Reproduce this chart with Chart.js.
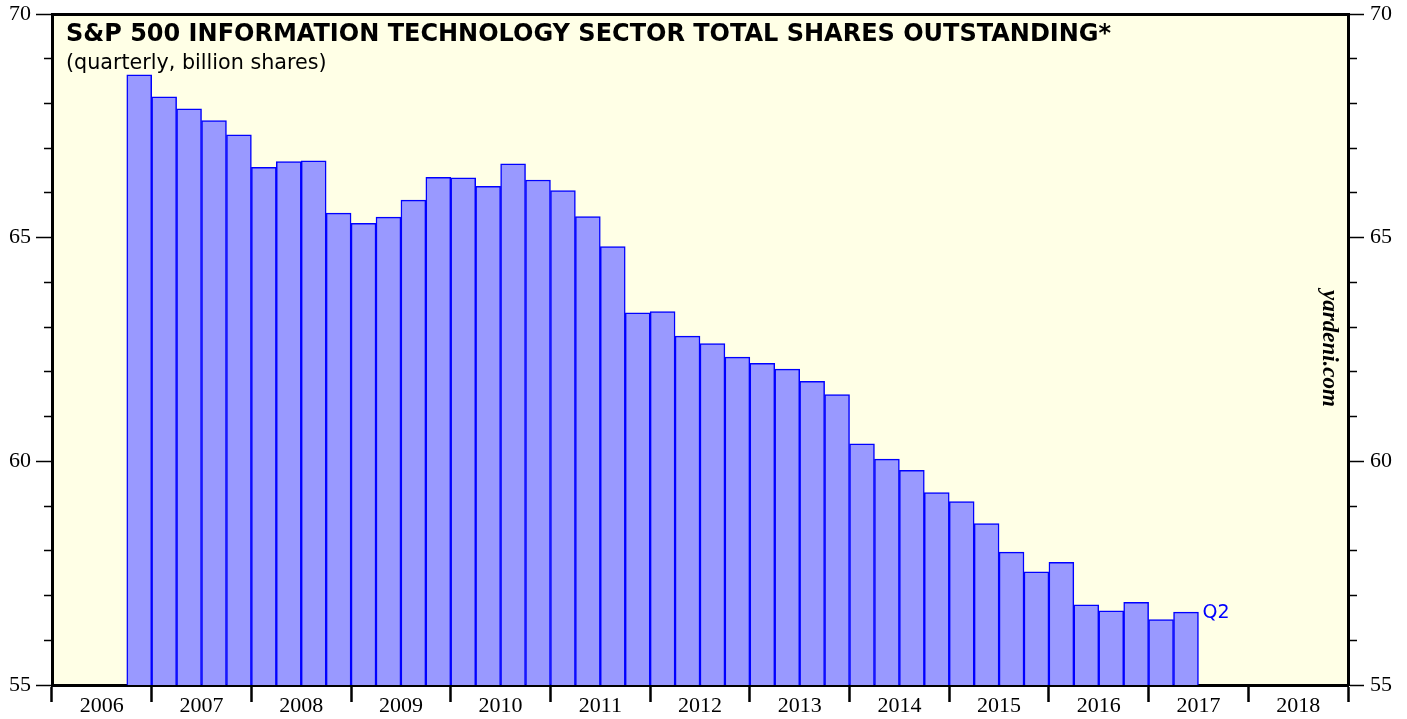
<!DOCTYPE html>
<html><head><meta charset="utf-8">
<script src="https://cdn.jsdelivr.net/npm/chart.js@4.4.1/dist/chart.umd.min.js"></script>
<style>html,body{margin:0;padding:0;background:#fff;} #wrap{position:relative;width:1407px;height:719px;}</style>
</head><body><div id="wrap"><canvas id="c"></canvas></div>
<script>
const allQuarters = [
  '2006Q1','2006Q2','2006Q3','2006Q4','2007Q1','2007Q2','2007Q3','2007Q4',
  '2008Q1','2008Q2','2008Q3','2008Q4','2009Q1','2009Q2','2009Q3','2009Q4',
  '2010Q1','2010Q2','2010Q3','2010Q4','2011Q1','2011Q2','2011Q3','2011Q4',
  '2012Q1','2012Q2','2012Q3','2012Q4','2013Q1','2013Q2','2013Q3','2013Q4',
  '2014Q1','2014Q2','2014Q3','2014Q4','2015Q1','2015Q2','2015Q3','2015Q4',
  '2016Q1','2016Q2','2016Q3','2016Q4','2017Q1','2017Q2','2017Q3','2017Q4',
  '2018Q1','2018Q2','2018Q3','2018Q4'
];
const yearLabels = ['2006','2007','2008','2009','2010','2011','2012','2013','2014','2015','2016','2017','2018'];
const shareQuarters = [
  '2006Q4','2007Q1','2007Q2','2007Q3','2007Q4',
  '2008Q1','2008Q2','2008Q3','2008Q4','2009Q1','2009Q2','2009Q3','2009Q4',
  '2010Q1','2010Q2','2010Q3','2010Q4','2011Q1','2011Q2','2011Q3','2011Q4',
  '2012Q1','2012Q2','2012Q3','2012Q4','2013Q1','2013Q2','2013Q3','2013Q4',
  '2014Q1','2014Q2','2014Q3','2014Q4','2015Q1','2015Q2','2015Q3','2015Q4',
  '2016Q1','2016Q2','2016Q3','2016Q4','2017Q1','2017Q2'
];
const shares = [
  68.64, 68.15, 67.88, 67.62, 67.30,
  66.57, 66.70, 66.72, 65.55, 65.32, 65.46, 65.84, 66.35,
  66.34, 66.15, 66.65, 66.29, 66.05, 65.47, 64.80, 63.32,
  63.35, 62.80, 62.63, 62.33, 62.19, 62.06, 61.79, 61.49,
  60.39, 60.05, 59.80, 59.30, 59.10, 58.61, 57.97, 57.53,
  57.74, 56.79, 56.66, 56.85, 56.46, 56.63
];
const yMin = 55, yMax = 70, yMajorStep = 5, yMinorStep = 1;
const titleText = 'S&P 500 INFORMATION TECHNOLOGY SECTOR TOTAL SHARES OUTSTANDING*';
const subtitleText = '(quarterly, billion shares)';
const lastLabel = 'Q2';
const sourceText = 'yardeni.com';

const decor = {
  id: 'decor',
  beforeDraw(chart) {
    const {ctx, chartArea: a} = chart;
    ctx.save();
    ctx.fillStyle = '#FFFFE6';
    ctx.fillRect(a.left, a.top, a.right - a.left, a.bottom - a.top);
    ctx.restore();
  },
  afterDatasetsDraw(chart) {
    const ctx = chart.ctx;
    ctx.save();
    ctx.fillStyle = '#000';
    ctx.textAlign = 'left';
    ctx.textBaseline = 'alphabetic';
    ctx.font = 'bold 24px "DejaVu Sans"';
    ctx.fillText(titleText, 66, 41);
    ctx.font = '20.7px "DejaVu Sans"';
    ctx.fillText(subtitleText, 66, 69);
    // last-value label
    const xs = chart.scales.x, ys = chart.scales.y;
    const li = shares.length - 1;
    const idx = allQuarters.indexOf(shareQuarters[li]);
    const band = xs.getPixelForValue(1) - xs.getPixelForValue(0);
    ctx.fillStyle = '#0000FF';
    ctx.font = '19px "DejaVu Sans"';
    ctx.textBaseline = 'middle';
    ctx.fillText(lastLabel, xs.getPixelForValue(idx) + band / 2 + 4, ys.getPixelForValue(shares[li]) + 1);
    // source
    ctx.fillStyle = '#000';
    ctx.font = 'bold italic 23px "Liberation Serif"';
    ctx.textAlign = 'center';
    ctx.textBaseline = 'alphabetic';
    ctx.translate(1323, 348.5);
    ctx.rotate(Math.PI / 2);
    ctx.fillText(sourceText, 0, 0);
    ctx.restore();
  }
};

const tickFont = {family: '"Liberation Serif"', size: 22, lineHeight: 1};
function yAxis(pos, pad, minorDash, width) {
  return {
    type: 'linear', position: pos, min: yMin, max: yMax,
    ticks: {
      stepSize: yMinorStep, autoSkip: false, padding: pad, color: '#000', font: tickFont,
      callback: v => (v % yMajorStep === 0 ? String(v) : '')
    },
    grid: {
      drawOnChartArea: false, drawTicks: true, tickLength: 16, tickWidth: 1.5, tickColor: '#000',
      tickBorderDash: c => (c.tick && c.tick.value % yMajorStep !== 0) ? minorDash : []
    },
    border: {display: true, color: '#000', width: 3},
    afterFit(s) { s.width = width; s.paddingTop = 0; s.paddingBottom = 0; }
  };
}

new Chart(document.getElementById('c'), {
  type: 'bar',
  data: {
    labels: allQuarters,
    datasets: [{
      data: shares.map((v, i) => ({x: shareQuarters[i], y: v})),
      backgroundColor: '#9999FF',
      borderColor: '#0000FF',
      borderWidth: 1.5,
      barPercentage: 1,
      categoryPercentage: 1
    }]
  },
  options: {
    responsive: true,
    maintainAspectRatio: false,
    devicePixelRatio: 1,
    animation: false,
    layout: {padding: {top: 14, left: 0, right: 0, bottom: 0}},
    plugins: {legend: {display: false}, tooltip: {enabled: false}, title: {display: false}},
    scales: {
      x: {type: 'category', labels: allQuarters, display: false, offset: true},
      xYear: {
        type: 'category', labels: yearLabels, position: 'bottom', offset: true,
        grid: {offset: true, drawOnChartArea: false, drawTicks: true, tickLength: 17, tickWidth: 2.5, tickColor: '#000'},
        border: {display: true, color: '#000', width: 3},
        ticks: {font: tickFont, color: '#000', padding: -7, maxRotation: 0, autoSkip: false},
        afterFit(s) { s.height = 34; s.paddingLeft = 0; s.paddingRight = 0; }
      },
      xTop: {
        type: 'linear', position: 'top', min: 0, max: 1,
        ticks: {display: false},
        grid: {drawOnChartArea: false, drawTicks: false},
        border: {display: true, color: '#000', width: 3},
        afterFit(s) { s.height = 0; s.paddingLeft = 0; s.paddingRight = 0; }
      },
      y: yAxis('left', 5, [0, 8, 30, 0], 52),
      y2: yAxis('right', 6, [7, 30], 59)
    }
  },
  plugins: [decor]
});
</script>
</body></html>
